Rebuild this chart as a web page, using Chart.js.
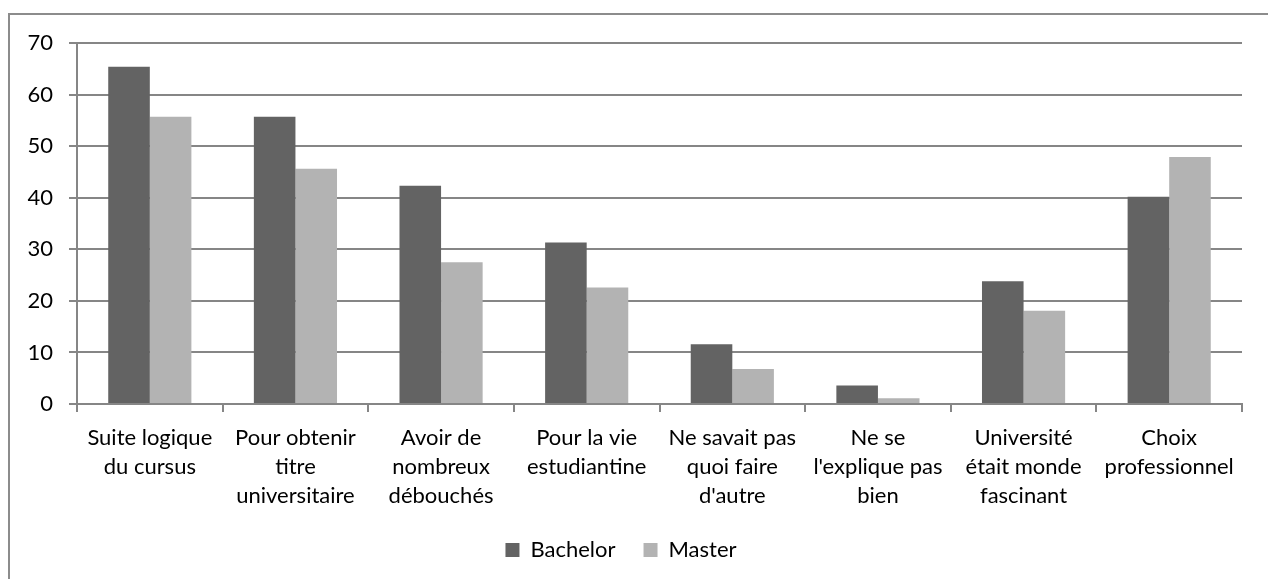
<!DOCTYPE html>
<html>
<head>
<meta charset="utf-8">
<script src="https://cdn.jsdelivr.net/npm/chart.js@4"></script>
<style>
  html, body { margin: 0; padding: 0; background: #fff; overflow: hidden; }
  #frame { position: absolute; left: 8px; top: 13px; width: 1400px; height: 700px; border: 2px solid #8c8c8c; }
  #wrap { position: absolute; left: 0; top: 0; width: 1268px; height: 571px; }
</style>
</head>
<body>
<div id="frame"></div>
<div id="wrap"><canvas id="chart"></canvas></div>
<script>
// categories (multi-line labels as in the original)
const categories = [
  ["Suite logique", "du cursus"],
  ["Pour obtenir", "titre", "universitaire"],
  ["Avoir de", "nombreux", "débouchés"],
  ["Pour la vie", "estudiantine"],
  ["Ne savait pas", "quoi faire", "d'autre"],
  ["Ne se", "l'explique pas", "bien"],
  ["Université", "était monde", "fascinant"],
  ["Choix", "professionnel"]
];
const bachelor = [65.4, 55.7, 42.3, 31.3, 11.6, 3.6, 23.8, 40.2];
const master = [55.7, 45.6, 27.5, 22.6, 6.8, 1.1, 18.1, 47.9];
const yTicks = [0, 10, 20, 30, 40, 50, 60, 70];

const FONT = "Lato, 'Open Sans', sans-serif";

new Chart(document.getElementById("chart"), {
  type: "bar",
  data: {
    labels: categories,
    datasets: [
      { label: "Bachelor", data: bachelor, backgroundColor: "#636363" },
      { label: "Master", data: master, backgroundColor: "#b3b3b3" }
    ]
  },
  options: {
    responsive: true,
    maintainAspectRatio: false,
    animation: false,
    layout: { padding: { left: 0, right: 26, top: 43, bottom: 0 } },
    datasets: { bar: { categoryPercentage: 0.571, barPercentage: 1.0 } },
    plugins: {
      tooltip: { enabled: false },
      legend: {
        position: "bottom",
        labels: {
          color: "#000",
          font: { family: FONT, size: 22 },
          boxWidth: 14,
          boxHeight: 14,
          padding: 28
        }
      }
    },
    scales: {
      x: {
        afterFit: function (scale) { scale.height = 107; },
        grid: { display: true, drawOnChartArea: false, drawTicks: true, tickLength: 8, color: "#868686", lineWidth: 2, offset: true },
        border: { display: true, color: "#868686", width: 2 },
        ticks: { color: "#000", font: { family: FONT, size: 22, lineHeight: 1.32 }, maxRotation: 0, autoSkip: false, padding: 11 }
      },
      y: {
        min: 0,
        max: 70,
        afterFit: function (scale) { scale.width = 77; },
        afterBuildTicks: function (scale) { scale.ticks = yTicks.map(v => ({ value: v })); },
        grid: { color: "#868686", lineWidth: 2, tickLength: 8 },
        border: { display: true, color: "#868686", width: 2 },
        ticks: { color: "#000", font: { family: FONT, size: 22 }, padding: 16 }
      }
    }
  }
});
</script>
</body>
</html>
